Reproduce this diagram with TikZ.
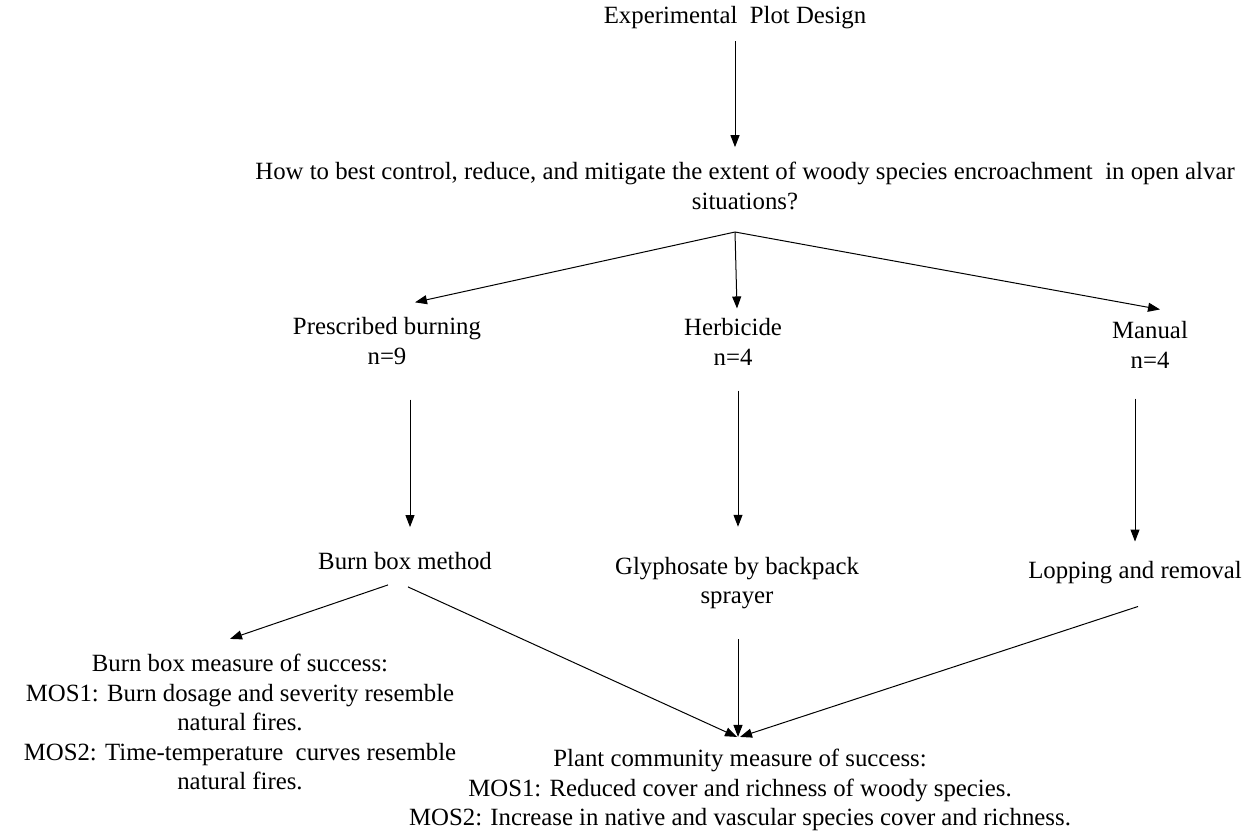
\documentclass[tikz,border=0pt]{standalone}
\usepackage{fontspec}
\setmainfont{Liberation Serif}
\usetikzlibrary{calc,arrows.meta}
\tikzset{
  txt/.style={align=center, inner sep=0pt, font=\fontsize{24.8}{29.5}\selectfont},
  arr/.style={-{Triangle[length=12pt,width=9pt]}, line width=1pt},
}
\begin{document}
\begin{tikzpicture}[x=1pt,y=-1pt]
    \useasboundingbox (0,0) rectangle (1246,833);

    \node[txt] (design) at (735,18) {Experimental\ \ Plot Design};
    \node[txt] (question) at (745,186) {How to best control, reduce, and mitigate the extent of woody species encroachment\ \ in open alvar\\situations?};
    \coordinate (fan) at (735,232);

    \node[txt] (burning) at (387,341) {Prescribed burning\\n=9};
    \node[txt] (herbicide) at (733,342) {Herbicide\\n=4};
    \node[txt] (manual) at (1150,345) {Manual\\n=4};

    \node[txt] (burnbox) at (405,561) {Burn box method};
    \node[txt] (glyph) at (737,583) {Glyphosate by backpack\\sprayer};
    \node[txt] (lopping) at (1135,573) {Lopping and removal};

    \node[txt] (bbmos) at (240,722) {Burn box measure of success:\\MOS1: Burn dosage and severity resemble\\natural fires.\\MOS2: Time-temperature\ \ curves resemble\\natural fires.};
    \node[txt] (pcmos) at (740,790) {Plant community measure of success:\\MOS1: Reduced cover and richness of woody species.\\MOS2: Increase in native and vascular species cover and richness.};

    \draw[arr] (design.south) ++(0,12) -- ($(question.north)+(-10,-15)$);
    \draw[arr] (fan) -- ($(burning.north)+(28,-15)$);
    \draw[arr] (fan) -- ($(herbicide.north)+(4,-10)$);
    \draw[arr] (fan) -- ($(manual.north)+(10,-12)$);

    \draw[arr] ($(burning.south)+(23,35)$) -- ($(burnbox.north)+(5,-25)$);
    \draw[arr] ($(herbicide.south)+(5,25)$) -- ($(glyph.north)+(1,-30)$);
    \draw[arr] ($(manual.south)+(-15,30)$) -- ($(lopping.north)+(0,-20)$);

    \draw[arr] ($(burnbox.south)+(-17,15)$) -- ($(bbmos.north)+(-10,-15)$);
    \draw[arr] ($(burnbox.south)+(3,17)$) -- ($(pcmos.north)+(-3,-12)$);
    \draw[arr] ($(glyph.south)+(1,30)$) -- ($(pcmos.north)+(-2,-12)$);
    \draw[arr] ($(lopping.south)+(3,22)$) -- ($(pcmos.north)+(0,-12)$);
\end{tikzpicture}
\end{document}
